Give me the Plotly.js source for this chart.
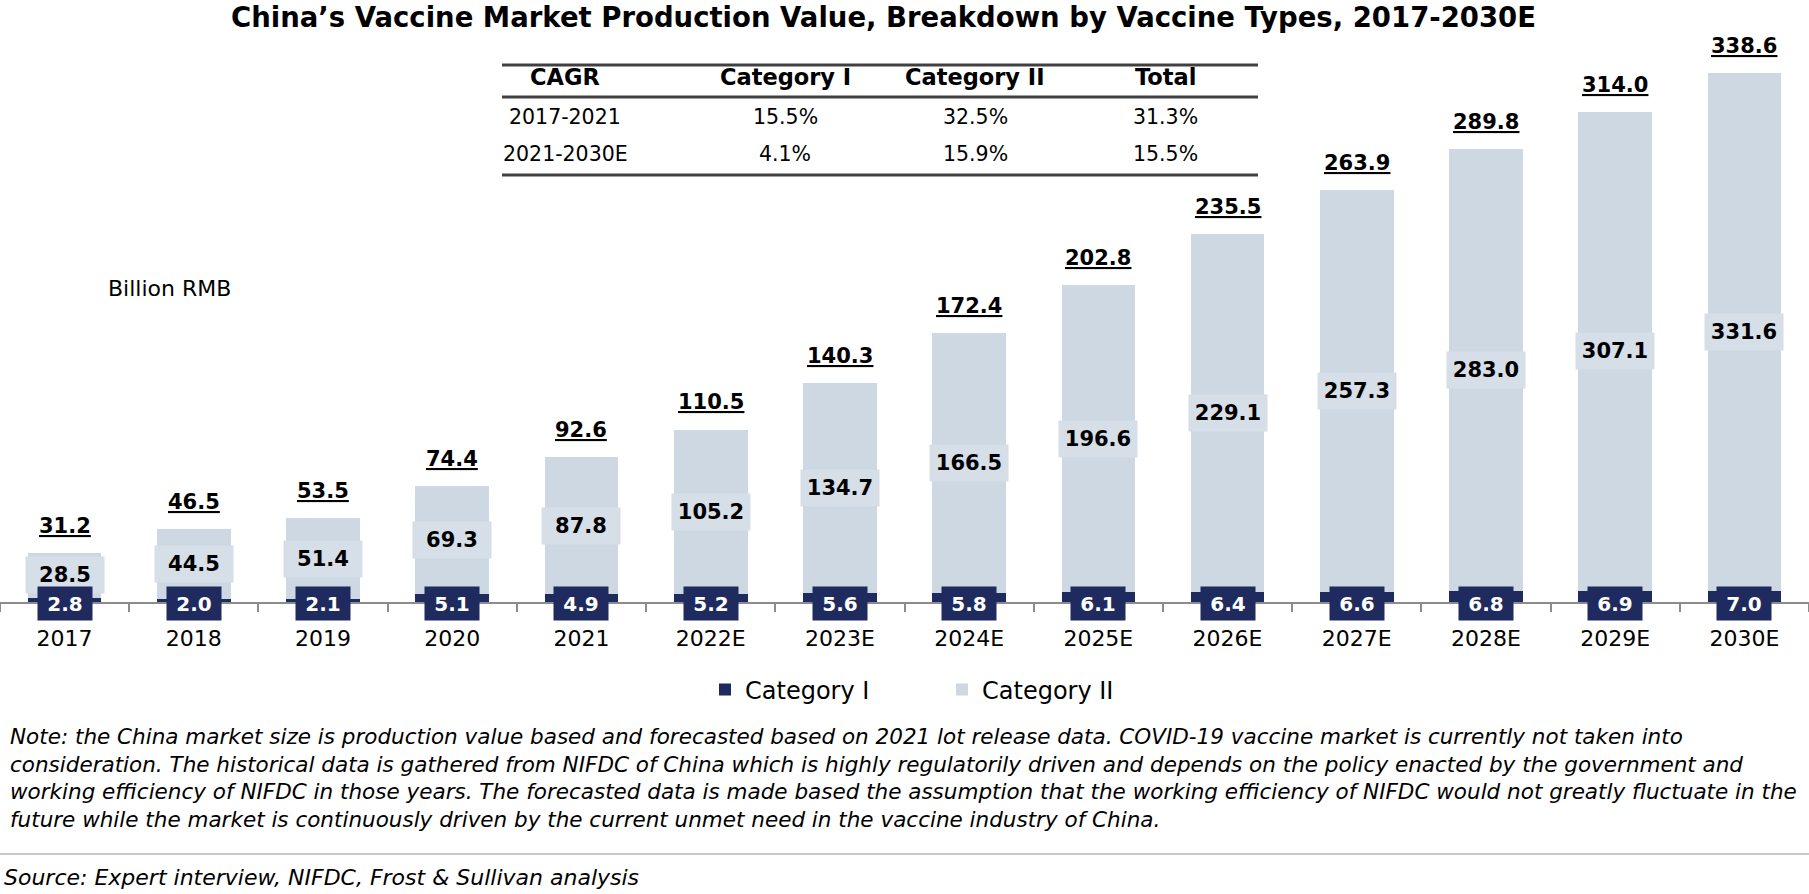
<!DOCTYPE html>
<html>
<head>
<meta charset="utf-8">
<script src="https://cdn.plot.ly/plotly-3.0.1.min.js"></script>
<style>html,body{margin:0;padding:0;background:#fff;}#chart{width:1809px;height:894px;}</style>
</head>
<body>
<div id="chart"></div>
<script>
// ---- data ----
const years = ['2017','2018','2019','2020','2021','2022E','2023E','2024E','2025E','2026E','2027E','2028E','2029E','2030E'];
const categoryI = [2.8, 2.0, 2.1, 5.1, 4.9, 5.2, 5.6, 5.8, 6.1, 6.4, 6.6, 6.8, 6.9, 7.0];
const categoryII = [28.5, 44.5, 51.4, 69.3, 87.8, 105.2, 134.7, 166.5, 196.6, 229.1, 257.3, 283.0, 307.1, 331.6];
const totals = [31.2, 46.5, 53.5, 74.4, 92.6, 110.5, 140.3, 172.4, 202.8, 235.5, 263.9, 289.8, 314.0, 338.6];

const cagrHeader = ['CAGR', 'Category I', 'Category II', 'Total'];
const cagrPeriods = ['2017-2021', '2021-2030E'];
const cagrCatI = ['15.5%', '4.1%'];
const cagrCatII = ['32.5%', '15.9%'];
const cagrTotal = ['31.3%', '15.5%'];

const titleText = 'China\u2019s Vaccine Market Production Value, Breakdown by Vaccine Types, 2017-2030E';
const unitText = 'Billion RMB';
const noteLines = [
  'Note: the China market size is production value based and forecasted based on 2021 lot release data. COVID-19 vaccine market is currently not taken into',
  'consideration. The historical data is gathered from NIFDC of China which is highly regulatorily driven and depends on the policy enacted by the government and',
  'working efficiency of NIFDC in those years. The forecasted data is made based the assumption that the working efficiency of NIFDC would not greatly fluctuate in the',
  'future while the market is continuously driven by the current unmet need in the vaccine industry of China.'
];
const sourceText = 'Source: Expert interview, NIFDC, Frost & Sullivan analysis';

// ---- layout geometry ----
const W = 1809, H = 894;
const M = {l: 0, r: 0, t: 60, b: 292};
const PW = W - M.l - M.r, PH = H - M.t - M.b;
const px = x => (x - M.l) / PW;
const py = y => (H - M.b - y) / PH;

const FONT = '"DejaVu Sans", Verdana, sans-serif';
const NAVY = '#1f2a5e';
const LIGHT = '#cdd8e3';

const traces = [
  {type: 'bar', name: 'Category I', x: years, y: categoryI, marker: {color: NAVY}, hoverinfo: 'skip'},
  {type: 'bar', name: 'Category II', x: years, y: categoryII, marker: {color: LIGHT}, hoverinfo: 'skip'}
];

const annotations = [];
years.forEach((yr, i) => {
  // x given as category index (numeric-looking category names would be read as indices)
  annotations.push({
    x: i, y: totals[i], xref: 'x', yref: 'y', yanchor: 'bottom', yshift: 13,
    text: '<b><u>' + totals[i].toFixed(1) + '</u></b>', showarrow: false,
    font: {family: FONT, size: 21, color: '#000'}
  });
  annotations.push({
    x: i, y: categoryI[i] + categoryII[i] / 2, xref: 'x', yref: 'y', yanchor: 'middle',
    text: '<b>' + categoryII[i].toFixed(1) + '</b>', showarrow: false,
    bgcolor: '#d6dee7', width: 74, height: 32, borderpad: 2,
    font: {family: FONT, size: 21, color: '#000'}
  });
  annotations.push({
    x: i, y: 0, xref: 'x', yref: 'y', yanchor: 'middle', yshift: -1,
    text: '<b>' + categoryI[i].toFixed(1) + '</b>', showarrow: false,
    bgcolor: NAVY, width: 50, height: 29, borderpad: 2,
    font: {family: FONT, size: 20, color: '#fff'}
  });
});

annotations.push({
  xref: 'paper', yref: 'paper', x: px(106), y: py(288), xanchor: 'left', yanchor: 'middle',
  text: unitText, showarrow: false, font: {family: FONT, size: 22, color: '#000'}
});

// CAGR table
const colX = [565, 785, 975, 1165];
const rowY = [77, 117, 154];
cagrHeader.forEach((h, c) => {
  annotations.push({xref: 'paper', yref: 'paper', x: px(colX[c]), y: py(rowY[0]), xanchor: 'center', yanchor: 'middle',
    text: '<b>' + h + '</b>', showarrow: false, font: {family: FONT, size: 22.5, color: '#000'}});
});
cagrPeriods.forEach((p, r) => {
  const row = [p, cagrCatI[r], cagrCatII[r], cagrTotal[r]];
  row.forEach((v, c) => {
    annotations.push({xref: 'paper', yref: 'paper', x: px(colX[c]), y: py(rowY[r + 1]), xanchor: 'center', yanchor: 'middle',
      text: v, showarrow: false, font: {family: FONT, size: 20.5, color: '#000'}});
  });
});

// note & source (one annotation per line to keep the original line spacing)
const noteY = [736, 764, 791, 819];
noteLines.forEach((ln, k) => {
  annotations.push({
    xref: 'paper', yref: 'paper', x: px(8), y: py(noteY[k]), xanchor: 'left', yanchor: 'middle', align: 'left',
    text: '<i>' + ln + '</i>', showarrow: false,
    font: {family: FONT, size: 21.5, color: '#000'}
  });
});
annotations.push({
  xref: 'paper', yref: 'paper', x: px(2), y: py(877), xanchor: 'left', yanchor: 'middle', align: 'left',
  text: '<i>' + sourceText + '</i>', showarrow: false,
  font: {family: FONT, size: 22, color: '#000'}
});

const rule = (x0, x1, y, color, w) => ({type: 'line', xref: 'paper', yref: 'paper', x0: px(x0), x1: px(x1), y0: py(y), y1: py(y), line: {color: color, width: w}});
const shapes = [
  rule(502, 1258, 65, '#404040', 3),
  rule(502, 1258, 97, '#404040', 3),
  rule(502, 1258, 175, '#404040', 3),
  rule(0, 1809, 854, '#c8c8c8', 2)
];

const layout = {
  width: W, height: H,
  margin: M,
  paper_bgcolor: '#fff', plot_bgcolor: '#fff',
  barmode: 'stack', bargap: 0.43,
  showlegend: true,
  title: {text: '<b>' + titleText + '</b>', x: 0.5 - 21 / W, xanchor: 'center', y: 1 - 17 / H, yanchor: 'middle', yref: 'container',
    font: {family: FONT, size: 27.5, color: '#000'}},
  xaxis: {
    type: 'category', range: [-0.5, years.length - 0.5], autorange: false,
    showgrid: false, zeroline: false,
    showline: true, linecolor: '#8c8c8c', linewidth: 2,
    ticks: 'outside', tickson: 'boundaries', ticklen: 8, tickcolor: '#8c8c8c', tickwidth: 2,
    tickfont: {family: FONT, size: 22, color: '#000'}, ticklabelstandoff: 16, tickangle: 0,
    fixedrange: true
  },
  yaxis: {range: [0, PH / 1.562], autorange: false, visible: false, showgrid: false, zeroline: false, fixedrange: true},
  legend: {orientation: 'h', traceorder: 'normal', x: px(942), xanchor: 'center', y: py(690), yanchor: 'middle',
    font: {family: FONT, size: 24, color: '#000'}, entrywidth: 192, entrywidthmode: 'pixels', bgcolor: 'rgba(0,0,0,0)'},
  annotations: annotations,
  shapes: shapes,
  font: {family: FONT}
};

Plotly.newPlot('chart', traces, layout, {displayModeBar: false, staticPlot: true});
</script>
</body>
</html>
